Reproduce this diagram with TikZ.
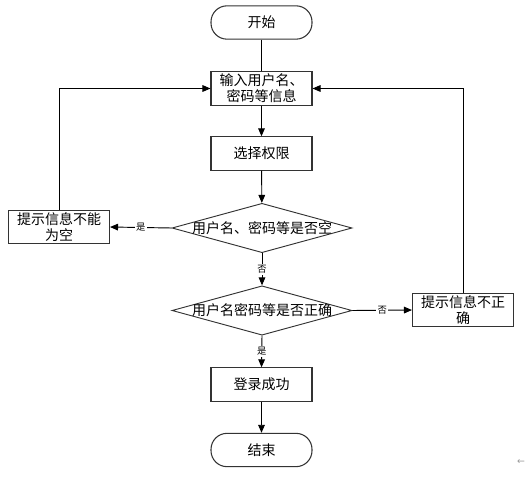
\documentclass[tikz,border=0pt]{standalone}
\usepackage{fontspec}
\setmainfont{Noto Sans CJK SC}
\newfontfamily\symfont{DejaVu Sans}
\usepackage{tikz}
\usetikzlibrary{shapes.geometric, arrows.meta, positioning, calc}
\definecolor{linecol}{HTML}{000000}
\definecolor{bordercol}{HTML}{333333}
\definecolor{markcol}{HTML}{999999}

\begin{document}
\begin{tikzpicture}[x=0.75pt, y=-0.75pt,
  terminal/.style={rectangle, rounded corners=12pt, draw=bordercol, line width=0.8pt,
                   minimum width=75.75pt, minimum height=25pt,
                   align=center, font=\fontsize{10.5}{12}\selectfont},
  process/.style={rectangle, draw=bordercol, line width=0.8pt,
                  minimum width=75.75pt, minimum height=25pt, inner sep=1pt,
                  align=center, font=\fontsize{10.5}{12}\selectfont},
  decision/.style={diamond, draw=bordercol, line width=0.7pt, inner sep=0pt,
                   shape aspect=3.6, minimum width=135pt, minimum height=37pt,
                   font=\fontsize{10.5}{12}\selectfont},
  flow/.style={-{Triangle[length=6pt, width=5pt]}, linecol, line width=0.7pt},
  tag/.style={fill=white, inner sep=1pt, font=\fontsize{7}{8}\selectfont},
]
  \useasboundingbox (0,0) rectangle (531,477);
  \node[terminal] (start) at (261.5,22.5) {开始};
  \node[process] (input) at (261.5,88.5) {输入用户名、\\密码等信息};
  \node[process] (role) at (261.5,153.5) {选择权限};
  \node[decision] (empty) at (262,228) {\makebox[0pt]{用户名、密码等是否空}};
  \node[process] (emptymsg) at (59,227) {提示信息不能\\为空};
  \node[decision] (valid) at (262,310.5) {\makebox[0pt]{用户名密码等是否正确}};
  \node[process] (wrongmsg) at (463,310) {提示信息不正\\确};
  \node[process] (ok) at (261.5,384.5) {登录成功};
  \node[terminal] (stop) at (261.5,450) {结束};
  \node[text=markcol, inner sep=0pt, font=\symfont\fontsize{7}{8}\selectfont] (mark) at (521,462) {←};

  \draw[linecol, line width=0.7pt] (start) -- (input);
  \foreach \from/\to in {input/role, role/empty, ok/stop} {
    \draw[flow] (\from) -- (\to);
  }
  \draw[flow] (empty.west) -- node[tag] {是} (emptymsg.east);
  \draw[flow] (empty.south) -- node[tag] {否} (valid.north);
  \draw[flow] (valid.east) -- node[tag] {否} (wrongmsg.west);
  \draw[flow] (valid.south) -- node[tag] {是} (ok.north);
  \draw[flow] (emptymsg.north) |- (input.west);
  \draw[flow] (wrongmsg.north) |- (input.east);
\end{tikzpicture}
\end{document}
